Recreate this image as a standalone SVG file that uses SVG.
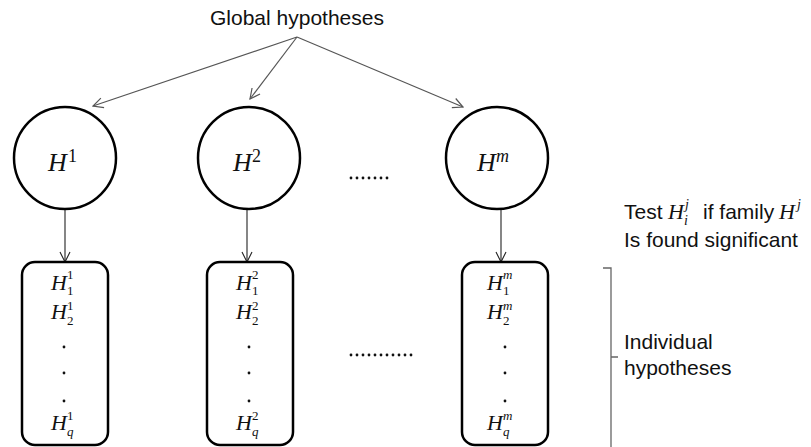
<svg xmlns="http://www.w3.org/2000/svg" width="811" height="447" viewBox="0 0 811 447">
<defs>
<marker id="ah" viewBox="0 0 12 12" refX="11" refY="6" markerWidth="12" markerHeight="12" markerUnits="userSpaceOnUse" orient="auto">
<path d="M1,1 L11,6 L1,11" fill="none" stroke="#555" stroke-width="1.2"/>
</marker>
<marker id="ahd" viewBox="0 0 12 12" refX="11" refY="6" markerWidth="12" markerHeight="12" markerUnits="userSpaceOnUse" orient="auto">
<path d="M1,1 L11,6 L1,11" fill="none" stroke="#222" stroke-width="1.1"/>
</marker>
</defs>
<style>
.lbl{font-family:"Liberation Sans",Arial,sans-serif;font-size:21px;fill:#111}
.m{font-family:"Liberation Serif","Times New Roman",serif;font-style:italic;fill:#111}
.big{font-size:26px}
.mid{font-size:22px}
.bs{font-size:18px}
.sc{font-size:14px}
.ss{font-size:13px}
.up{font-style:normal}
.node{fill:#fff;stroke:#000;stroke-width:2.5}
.conn{stroke:#555;stroke-width:1.2;fill:none}
.cd{stroke:#222;stroke-width:1.1;fill:none}
.dot{fill:#111}
</style>
<rect width="811" height="447" fill="#fff"/>

<g id="connectors">
<line class="conn" x1="297" y1="37" x2="93" y2="106" marker-end="url(#ah)"/>
<line class="conn" x1="297" y1="37" x2="250" y2="99" marker-end="url(#ah)"/>
<line class="conn" x1="297" y1="37" x2="463" y2="107" marker-end="url(#ah)"/>
<line class="cd" x1="65" y1="210" x2="65" y2="262" marker-end="url(#ahd)"/>
<line class="cd" x1="247" y1="210" x2="247" y2="262" marker-end="url(#ahd)"/>
<line class="cd" x1="501" y1="210" x2="501" y2="262" marker-end="url(#ahd)"/>
</g>

<g id="global-label">
<text class="lbl" x="210" y="25">Global hypotheses</text>
</g>

<g id="node-H1">
<circle class="node" cx="65" cy="158" r="51"/>
<text class="m big" x="48" y="171">H<tspan class="bs up" x="68" y="162">1</tspan></text>
</g>
<g id="node-H2">
<circle class="node" cx="249" cy="158" r="51"/>
<text class="m big" x="233" y="171">H<tspan class="bs up" x="252" y="162">2</tspan></text>
</g>
<g id="node-Hm">
<circle class="node" cx="497" cy="158" r="51"/>
<text class="m big" x="477" y="171">H<tspan class="bs" x="496" y="162">m</tspan></text>
</g>

<g id="ellipsis-top">
<circle class="dot" cx="351" cy="178" r="1.4"/><circle class="dot" cx="357" cy="178" r="1.4"/><circle class="dot" cx="363" cy="178" r="1.4"/><circle class="dot" cx="369" cy="178" r="1.4"/><circle class="dot" cx="375" cy="178" r="1.4"/><circle class="dot" cx="381" cy="178" r="1.4"/><circle class="dot" cx="387" cy="178" r="1.4"/>
</g>

<g id="box-1">
<rect class="node" x="22" y="262" width="86" height="183" rx="13"/>
<text class="m mid" x="51" y="290">H<tspan class="ss up" x="67" y="279">1</tspan><tspan class="ss up" x="67" y="295">1</tspan></text>
<text class="m mid" x="51" y="319">H<tspan class="ss up" x="67" y="310">1</tspan><tspan class="ss up" x="67" y="325">2</tspan></text>
<circle class="dot" cx="64" cy="347" r="1.4"/><circle class="dot" cx="64" cy="373" r="1.4"/><circle class="dot" cx="64" cy="401" r="1.4"/>
<text class="m mid" x="51" y="430">H<tspan class="ss up" x="67" y="420">1</tspan><tspan class="ss" x="67" y="436">q</tspan></text>
</g>
<g id="box-2">
<rect class="node" x="207" y="262" width="86" height="183" rx="13"/>
<text class="m mid" x="236" y="290">H<tspan class="ss up" x="252" y="279">2</tspan><tspan class="ss up" x="252" y="295">1</tspan></text>
<text class="m mid" x="236" y="319">H<tspan class="ss up" x="252" y="310">2</tspan><tspan class="ss up" x="252" y="325">2</tspan></text>
<circle class="dot" cx="249" cy="347" r="1.4"/><circle class="dot" cx="249" cy="373" r="1.4"/><circle class="dot" cx="249" cy="401" r="1.4"/>
<text class="m mid" x="236" y="430">H<tspan class="ss up" x="252" y="420">2</tspan><tspan class="ss" x="252" y="436">q</tspan></text>
</g>
<g id="box-m">
<rect class="node" x="462" y="262" width="86" height="183" rx="13"/>
<text class="m mid" x="487" y="290">H<tspan class="ss" x="503" y="279">m</tspan><tspan class="ss up" x="503" y="295">1</tspan></text>
<text class="m mid" x="487" y="319">H<tspan class="ss" x="503" y="310">m</tspan><tspan class="ss up" x="503" y="325">2</tspan></text>
<circle class="dot" cx="505" cy="347" r="1.4"/><circle class="dot" cx="505" cy="373" r="1.4"/><circle class="dot" cx="505" cy="401" r="1.4"/>
<text class="m mid" x="487" y="430">H<tspan class="ss" x="503" y="420">m</tspan><tspan class="ss" x="503" y="436">q</tspan></text>
</g>

<g id="ellipsis-bottom">
<circle class="dot" cx="351" cy="355" r="1.4"/><circle class="dot" cx="357" cy="355" r="1.4"/><circle class="dot" cx="363" cy="355" r="1.4"/><circle class="dot" cx="369" cy="355" r="1.4"/><circle class="dot" cx="375" cy="355" r="1.4"/><circle class="dot" cx="381" cy="355" r="1.4"/><circle class="dot" cx="387" cy="355" r="1.4"/><circle class="dot" cx="393" cy="355" r="1.4"/><circle class="dot" cx="399" cy="355" r="1.4"/><circle class="dot" cx="405" cy="355" r="1.4"/><circle class="dot" cx="411" cy="355" r="1.4"/>
</g>

<g id="test-note">
<text class="lbl" x="624" y="219">Test<tspan class="m mid" x="668">H</tspan><tspan class="m sc" x="685" y="209">j</tspan><tspan class="m sc" x="684" y="225">i</tspan><tspan x="703" y="219">if family</tspan><tspan class="m mid" x="779">H</tspan><tspan class="m sc" x="797" y="209">j</tspan></text>
<text class="lbl" x="624" y="247">Is found significant</text>
</g>

<g id="individual-bracket">
<path d="M603,268 L611,268 L611,447 M611,357 L618,357" fill="none" stroke="#666" stroke-width="1.3"/>
<text class="lbl" x="624" y="349">Individual</text>
<text class="lbl" x="624" y="375">hypotheses</text>
</g>
</svg>
